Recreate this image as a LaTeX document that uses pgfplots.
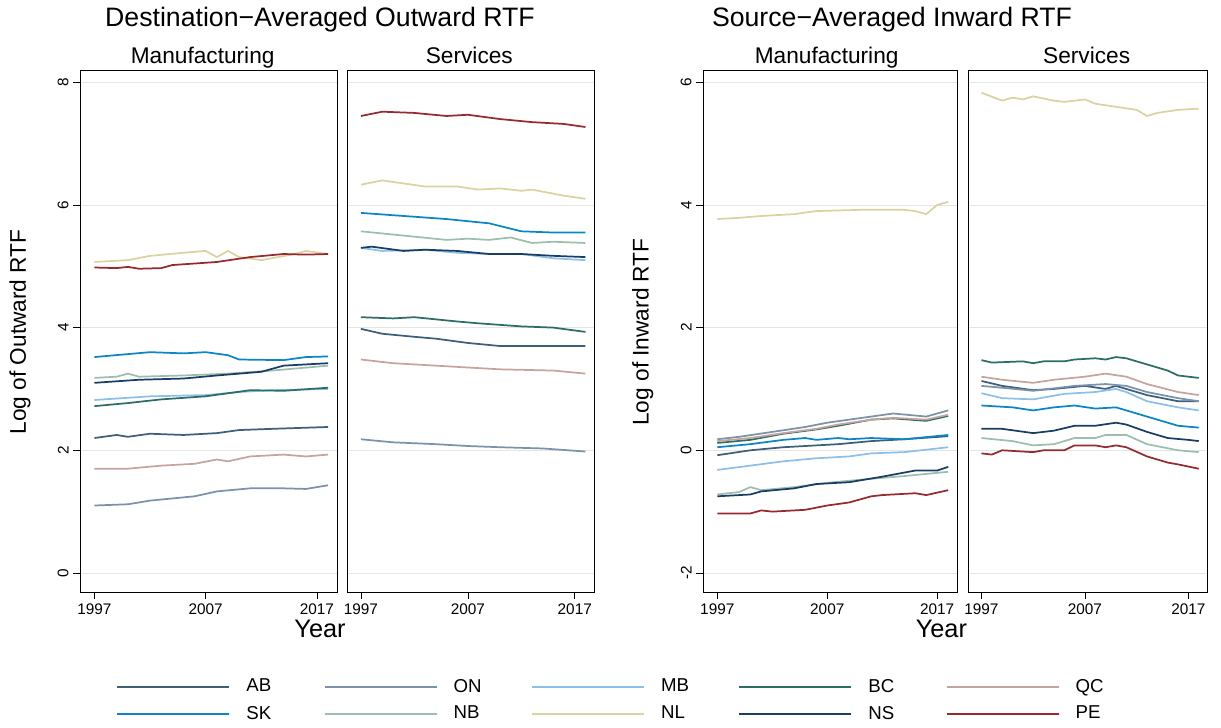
\documentclass[border=0pt]{standalone}
\usepackage{pgfplots}
\pgfplotsset{compat=1.18}
\usepackage{fontspec}
\setmainfont{Liberation Sans}
\definecolor{cAB}{HTML}{3E5E7A}
\definecolor{cON}{HTML}{7B92A8}
\definecolor{cMB}{HTML}{8DC0E8}
\definecolor{cBC}{HTML}{2D6D66}
\definecolor{cQC}{HTML}{C4A59E}
\definecolor{cSK}{HTML}{0A86C4}
\definecolor{cNB}{HTML}{9CBFAD}
\definecolor{cNL}{HTML}{D9D3A0}
\definecolor{cNS}{HTML}{1A3D66}
\definecolor{cPE}{HTML}{962A2F}
\pgfplotsset{
 panel/.style={scale only axis, width=#1, height=391.5pt, xmin=1995.7, xmax=2018.8,
  xtick={1997,2007,2017}, xticklabel style={/pgf/number format/1000 sep={}, font=\fontsize{11.5}{13}\selectfont},
  /pgf/number format/assume math mode=true, tick pos=left,
  tick align=outside, major tick length=5pt, tick style={black, thin},
  ymajorgrids, grid style={gray!20}, axis line style={black},
  yticklabel style={rotate=90, anchor=south, font=\fontsize{11.5}{13}\selectfont},
  every axis plot/.append style={line width=1.3pt, no marks}},
}
\tikzset{strip/.style={font=\fontsize{17}{19}\selectfont, anchor=base}}
\begin{document}
\begin{tikzpicture}
\path (0pt,0pt) rectangle (915.75pt,546pt);
\node[font=\fontsize{20}{22}\selectfont] at (240pt,531pt) {Destination−Averaged Outward RTF};
\node[font=\fontsize{20}{22}\selectfont] at (669pt,531pt) {Source−Averaged Inward RTF};
\node[strip] at (152pt,498pt) {Manufacturing};
\node[strip] at (352pt,498pt) {Services};
\node[strip] at (620pt,498pt) {Manufacturing};
\node[strip] at (815pt,498pt) {Services};
\node[font=\fontsize{19}{21}\selectfont] at (240pt,74pt) {Year};
\node[font=\fontsize{19}{21}\selectfont] at (706pt,74pt) {Year};
\node[font=\fontsize{17}{19}\selectfont, rotate=90] at (15pt,297pt) {Log of Outward RTF};
\node[font=\fontsize{17}{19}\selectfont, rotate=90] at (482pt,297pt) {Log of Inward RTF};
% Panel 1
\begin{axis}[panel=192.75pt, at={(60pt,102pt)}, anchor=south west, ymin=-0.31, ymax=8.2, ytick={0,2,4,6,8},
 legend columns=5,
 legend style={at={(0.125,-0.207)}, anchor=west, draw=none, font=\fontsize{14}{16}\selectfont,
  /tikz/every even column/.style={column sep=36pt}, row sep=5pt},
 legend cell align=left,
 legend image code/.code={\draw[#1, line width=1.5pt] (0pt,0pt) -- (84pt,0pt);}]
\addlegendimage{cAB}\addlegendentry{\makebox[30pt][l]{\hspace{10pt}AB}}
\addlegendimage{cON}\addlegendentry{\makebox[30pt][l]{\hspace{10pt}ON}}
\addlegendimage{cMB}\addlegendentry{\makebox[30pt][l]{\hspace{10pt}MB}}
\addlegendimage{cBC}\addlegendentry{\makebox[30pt][l]{\hspace{10pt}BC}}
\addlegendimage{cQC}\addlegendentry{\makebox[30pt][l]{\hspace{10pt}QC}}
\addlegendimage{cSK}\addlegendentry{\makebox[30pt][l]{\hspace{10pt}SK}}
\addlegendimage{cNB}\addlegendentry{\makebox[30pt][l]{\hspace{10pt}NB}}
\addlegendimage{cNL}\addlegendentry{\makebox[30pt][l]{\hspace{10pt}NL}}
\addlegendimage{cNS}\addlegendentry{\makebox[30pt][l]{\hspace{10pt}NS}}
\addlegendimage{cPE}\addlegendentry{\makebox[30pt][l]{\hspace{10pt}PE}}
\addplot[cAB, forget plot] coordinates {(1997,2.2)(1999,2.25)(2000,2.22)(2002,2.27)(2005,2.25)(2008,2.28)(2010,2.33)(2013,2.35)(2018,2.38)};
\addplot[cON, forget plot] coordinates {(1997,1.1)(2000,1.12)(2002,1.18)(2006,1.25)(2008,1.33)(2011,1.38)(2014,1.38)(2016,1.37)(2018,1.43)};
\addplot[cMB, forget plot] coordinates {(1997,2.82)(2002,2.88)(2007,2.9)(2010,2.95)(2013,2.98)(2018,3.0)};
\addplot[cBC, forget plot] coordinates {(1997,2.72)(2000,2.77)(2003,2.83)(2007,2.88)(2009,2.93)(2011,2.98)(2014,2.97)(2018,3.02)};
\addplot[cQC, forget plot] coordinates {(1997,1.7)(2000,1.7)(2003,1.75)(2006,1.78)(2008,1.85)(2009,1.82)(2011,1.9)(2014,1.93)(2016,1.9)(2018,1.93)};
\addplot[cSK, forget plot] coordinates {(1997,3.52)(2002,3.6)(2005,3.58)(2007,3.6)(2009,3.55)(2010,3.48)(2014,3.47)(2016,3.52)(2018,3.53)};
\addplot[cNB, forget plot] coordinates {(1997,3.18)(1999,3.2)(2000,3.25)(2001,3.2)(2005,3.22)(2009,3.25)(2013,3.3)(2018,3.38)};
\addplot[cNL, forget plot] coordinates {(1997,5.07)(2000,5.1)(2002,5.17)(2005,5.22)(2007,5.25)(2008,5.15)(2009,5.25)(2010,5.15)(2012,5.1)(2015,5.2)(2016,5.25)(2018,5.2)};
\addplot[cNS, forget plot] coordinates {(1997,3.1)(2001,3.15)(2005,3.17)(2008,3.22)(2012,3.28)(2014,3.38)(2018,3.42)};
\addplot[cPE, forget plot] coordinates {(1997,4.98)(1999,4.97)(2000,4.99)(2001,4.96)(2003,4.97)(2004,5.02)(2008,5.07)(2011,5.15)(2014,5.2)(2016,5.19)(2018,5.2)};
\end{axis}
% Panel 2
\begin{axis}[panel=185.25pt, at={(260.25pt,102pt)}, anchor=south west, ymin=-0.31, ymax=8.2, ytick={0,2,4,6,8}, yticklabels={}, ytick style={draw=none}]
\addplot[cAB] coordinates {(1997,3.98)(1999,3.9)(2002,3.85)(2004,3.82)(2007,3.75)(2010,3.7)(2013,3.7)(2018,3.7)};
\addplot[cON] coordinates {(1997,2.18)(2000,2.13)(2004,2.1)(2007,2.07)(2010,2.05)(2014,2.03)(2018,1.98)};
\addplot[cMB] coordinates {(1997,5.3)(1999,5.25)(2003,5.27)(2006,5.22)(2009,5.2)(2012,5.2)(2015,5.13)(2018,5.1)};
\addplot[cBC] coordinates {(1997,4.17)(2000,4.15)(2002,4.17)(2006,4.1)(2008,4.07)(2012,4.02)(2015,4.0)(2018,3.93)};
\addplot[cQC] coordinates {(1997,3.48)(2000,3.42)(2004,3.38)(2007,3.35)(2010,3.32)(2015,3.3)(2018,3.25)};
\addplot[cSK] coordinates {(1997,5.87)(2001,5.82)(2005,5.77)(2009,5.7)(2012,5.57)(2015,5.55)(2018,5.55)};
\addplot[cNB] coordinates {(1997,5.57)(2001,5.5)(2005,5.43)(2007,5.45)(2009,5.43)(2011,5.47)(2013,5.38)(2015,5.4)(2018,5.38)};
\addplot[cNL] coordinates {(1997,6.33)(1999,6.4)(2001,6.35)(2003,6.3)(2006,6.3)(2008,6.25)(2010,6.27)(2012,6.23)(2013,6.25)(2016,6.15)(2018,6.1)};
\addplot[cNS] coordinates {(1997,5.3)(1998,5.32)(2001,5.25)(2003,5.27)(2006,5.25)(2009,5.2)(2012,5.2)(2015,5.17)(2018,5.15)};
\addplot[cPE] coordinates {(1997,7.45)(1999,7.52)(2002,7.5)(2005,7.45)(2007,7.47)(2010,7.4)(2013,7.35)(2016,7.32)(2018,7.27)};
\end{axis}
% Panel 3
\begin{axis}[panel=190.5pt, at={(527.25pt,102pt)}, anchor=south west, ymin=-2.31, ymax=6.2, ytick={-2,0,2,4,6}]
\addplot[cAB] coordinates {(1997,-0.08)(2000,0.0)(2003,0.05)(2006,0.08)(2008,0.1)(2011,0.15)(2014,0.18)(2018,0.23)};
\addplot[cON] coordinates {(1997,0.18)(1999,0.22)(2002,0.3)(2005,0.38)(2007,0.45)(2009,0.5)(2011,0.55)(2013,0.6)(2016,0.55)(2018,0.65)};
\addplot[cMB] coordinates {(1997,-0.32)(2000,-0.25)(2003,-0.18)(2006,-0.13)(2009,-0.1)(2011,-0.05)(2014,-0.03)(2018,0.05)};
\addplot[cBC] coordinates {(1997,0.12)(2000,0.17)(2003,0.27)(2006,0.34)(2008,0.4)(2011,0.5)(2013,0.52)(2016,0.48)(2018,0.56)};
\addplot[cQC] coordinates {(1997,0.15)(2000,0.2)(2003,0.28)(2006,0.35)(2008,0.42)(2011,0.5)(2013,0.53)(2016,0.5)(2018,0.58)};
\addplot[cSK] coordinates {(1997,0.05)(2000,0.1)(2003,0.17)(2005,0.2)(2006,0.17)(2008,0.2)(2009,0.18)(2011,0.2)(2014,0.18)(2018,0.25)};
\addplot[cNB] coordinates {(1997,-0.72)(1999,-0.68)(2000,-0.6)(2001,-0.65)(2004,-0.6)(2007,-0.53)(2010,-0.48)(2014,-0.42)(2018,-0.35)};
\addplot[cNL] coordinates {(1997,3.77)(1999,3.79)(2001,3.82)(2004,3.85)(2006,3.9)(2010,3.92)(2014,3.92)(2015,3.9)(2016,3.85)(2017,4.0)(2018,4.05)};
\addplot[cNS] coordinates {(1997,-0.75)(2000,-0.72)(2001,-0.67)(2004,-0.62)(2006,-0.55)(2009,-0.52)(2012,-0.43)(2015,-0.33)(2017,-0.33)(2018,-0.27)};
\addplot[cPE] coordinates {(1997,-1.03)(2000,-1.03)(2001,-0.98)(2002,-1.0)(2005,-0.97)(2007,-0.9)(2009,-0.85)(2011,-0.75)(2012,-0.73)(2015,-0.7)(2016,-0.73)(2018,-0.65)};
\end{axis}
% Panel 4
\begin{axis}[panel=179.25pt, at={(726pt,102pt)}, anchor=south west, ymin=-2.31, ymax=6.2, ytick={-2,0,2,4,6}, yticklabels={}, ytick style={draw=none}]
\addplot[cAB] coordinates {(1997,1.13)(1999,1.05)(2002,0.98)(2004,1.0)(2007,1.05)(2009,1.0)(2010,1.05)(2011,1.0)(2013,0.9)(2016,0.8)(2018,0.8)};
\addplot[cON] coordinates {(1997,1.05)(1999,1.02)(2002,0.97)(2006,1.05)(2009,1.08)(2011,1.05)(2013,0.95)(2016,0.85)(2018,0.8)};
\addplot[cMB] coordinates {(1997,0.93)(1999,0.85)(2002,0.83)(2005,0.92)(2008,0.95)(2010,1.0)(2011,0.95)(2013,0.8)(2016,0.7)(2018,0.65)};
\addplot[cBC] coordinates {(1997,1.47)(1998,1.43)(2001,1.45)(2002,1.42)(2003,1.45)(2005,1.45)(2006,1.48)(2008,1.5)(2009,1.48)(2010,1.52)(2011,1.5)(2013,1.4)(2015,1.3)(2016,1.22)(2018,1.18)};
\addplot[cQC] coordinates {(1997,1.2)(1999,1.15)(2002,1.1)(2004,1.15)(2007,1.2)(2009,1.25)(2011,1.2)(2013,1.08)(2016,0.95)(2018,0.9)};
\addplot[cSK] coordinates {(1997,0.73)(2000,0.7)(2002,0.65)(2004,0.7)(2006,0.73)(2008,0.68)(2010,0.7)(2012,0.6)(2014,0.5)(2016,0.4)(2018,0.37)};
\addplot[cNB] coordinates {(1997,0.2)(2000,0.15)(2002,0.08)(2004,0.1)(2006,0.2)(2008,0.2)(2009,0.25)(2011,0.25)(2013,0.1)(2016,0.0)(2018,-0.03)};
\addplot[cNL] coordinates {(1997,5.83)(1999,5.7)(2000,5.75)(2001,5.72)(2002,5.77)(2004,5.7)(2005,5.68)(2007,5.72)(2008,5.65)(2010,5.6)(2012,5.55)(2013,5.45)(2014,5.5)(2016,5.55)(2018,5.57)};
\addplot[cNS] coordinates {(1997,0.35)(1999,0.35)(2002,0.28)(2004,0.32)(2006,0.4)(2008,0.4)(2010,0.45)(2011,0.42)(2013,0.3)(2015,0.2)(2017,0.17)(2018,0.15)};
\addplot[cPE] coordinates {(1997,-0.05)(1998,-0.07)(1999,0.0)(2002,-0.03)(2003,0.0)(2005,0.0)(2006,0.08)(2008,0.08)(2009,0.05)(2010,0.08)(2011,0.05)(2013,-0.1)(2015,-0.2)(2016,-0.23)(2018,-0.3)};
\end{axis}
\end{tikzpicture}
\end{document}
